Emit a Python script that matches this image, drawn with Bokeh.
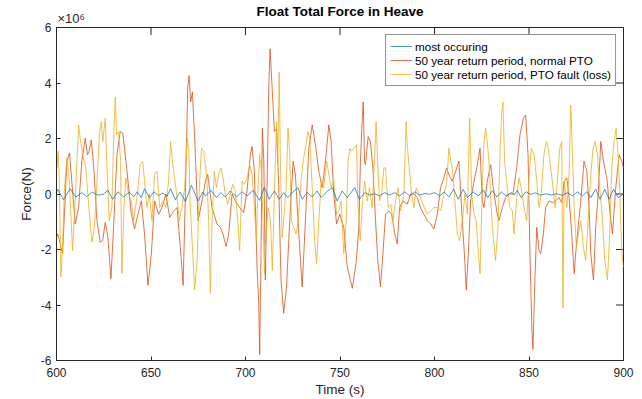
import math
from bokeh.plotting import figure
from bokeh.models import Range1d, Legend, LegendItem, LinearAxis, FixedTicker
from bokeh.embed import file_html
from bokeh.resources import INLINE

# ---------------- data (force in units of 1e6 N) ----------------
t_most = [600, 600.7, 603.7, 607.2, 610.2, 613.4, 616.1, 618.7, 621.9, 624.9, 627.2, 629.7, 632.5, 635.5,
          638.5, 640.8, 642.7, 644.9, 646.6, 649.1, 651.6, 654.0, 656.3, 658.5, 660.4, 662.9, 665.4, 668.2,
          671.4, 674.9, 677.4, 678.8, 681.8, 684.6, 687.0, 689.3, 692.0, 695.2, 698.2, 700.8, 704.0, 707.5,
          710.0, 712.5, 715.3, 717.8, 720.2, 722.4, 725.2, 727.7, 730.0, 732.6, 735.3, 737.9, 740.0, 742.9,
          745.9, 748.5, 751.2, 753.8, 757.8, 760.3, 763.1, 765.6, 768.4, 770.9, 773.7, 776.2, 779.0, 781.5,
          784.3, 786.8, 789.6, 792.1, 794.9, 797.4, 800.2, 802.7, 805.2, 807.6, 810.1, 812.6, 815.1, 817.5,
          820.4, 823.2, 825.8, 828.2, 830.6, 833.0, 835.4, 837.8, 840.6, 842.2, 843.8, 845.9, 848.4, 850.9,
          853.5, 856.2, 859.0, 861.8, 864.7, 867.5, 870.3, 873.0, 875.6, 878.3, 880.6, 882.7, 885.3, 887.6,
          890.1, 892.4, 894.7, 897.2, 900]
f_most = [0.05, 0.17, -0.21, 0.19, -0.11, 0.05, -0.10, 0.07, -0.04, -0.01, 0.14, -0.19, 0.08, -0.10,
          0.07, -0.10, 0.08, -0.13, 0.19, -0.13, 0.08, -0.06, 0.04, -0.08, 0.19, -0.21, 0.07, -0.27,
          0.31, -0.25, 0.07, -0.07, 0.13, -0.13, 0.05, -0.11, 0.11, -0.11, 0.08, -0.07, 0.13, -0.23,
          0.25, -0.19, 0.11, -0.19, 0.05, -0.13, 0.08, 0.23, -0.19, 0.05, -0.10, 0.11, -0.13, 0.08,
          0.23, -0.25, 0.11, -0.13, 0.23, -0.19, 0.05, -0.04, 0.01, -0.07, 0.05, -0.04, 0.05, -0.07,
          0.08, -0.07, 0.08, -0.04, 0.02, -0.01, 0.05, -0.07, 0.08, -0.11, 0.17, -0.19, 0.17, -0.13,
          0.08, -0.07, 0.15, -0.13, 0.12, -0.11, 0.08, -0.07, 0.05, -0.04, 0.13, -0.13, 0.08, -0.01,
          0.04, -0.04, 0.01, -0.04, 0.01, -0.05, 0.05, -0.07, 0.08, -0.07, 0.08, -0.13, 0.17, -0.19,
          0.17, -0.19, 0.17, -0.13, -0.01]

t_normal = [600, 600.7, 602, 603.2, 605.5, 606.9, 608.1, 609.9, 611.7, 613.4, 615.2, 616.4, 617.3, 618.4,
            619.6, 621.4, 623.1, 624.4, 625.8, 627.2, 628.8, 630.2, 632, 633.7, 635.1, 637.3, 639.6, 641.3,
            643.1, 644.9, 646.6, 648.4, 650.2, 651.9, 654.0, 655.8, 657.9, 659.9, 662, 663.8, 665.5, 667,
            668.2, 669.4, 670.1, 671, 671.9, 673.1, 674.9, 677, 678.8, 680, 682.3, 684.9, 686.7, 688.1,
            689.7, 691.1, 692.9, 694.6, 696.9, 699, 700.8, 702.6, 703.5, 704.7, 706.1, 707, 707.5, 708.2,
            708.9, 709.7, 710.5, 711.4, 712.3, 713, 714.1, 715.3, 716.4, 717.6, 718.8, 720.2, 721.7, 723.4,
            725.2, 726.4, 728.2, 730, 731.7, 733.5, 735.3, 737, 738.8, 740.6, 742.3, 744.1, 745.3, 746.7,
            748.2, 749.9, 752, 753.8, 756.5, 758.5, 760, 760.8, 761.7, 762.3, 763, 763.5, 764.9, 766.1,
            767.4, 768.8, 770, 771.4, 772.7, 774.1, 775.9, 777.3, 779, 780.3, 781.5, 783.3, 785.6, 787.3,
            789.1, 790.9, 792.6, 794.4, 796.2, 797.9, 799.7, 801.5, 803.2, 805, 806.4, 807.6, 809.4, 811.2,
            812.9, 814.4, 815.8, 816.8, 817.9, 819.1, 820.9, 822.7, 824.1, 825.3, 826.2, 827.9, 829.7, 831.1,
            832.9, 834.1, 835.9, 837.6, 839.4, 841.5, 843.5, 845.2, 847, 848.2, 849.5, 850.5, 851.6, 852.1,
            853, 854.1, 855.3, 856.2, 857.6, 858.8, 860.6, 862.4, 864.1, 865.9, 867.3, 868.6, 870, 871.2,
            872.6, 873.9, 874.7, 876, 877.4, 879.1, 880.6, 881.8, 882.7, 884.1, 885.3, 886.6, 888, 889.4,
            891.2, 892.9, 894.2, 895.9, 897.7, 899.1, 900]
f_normal = [-1.56, -1.44, -1.8, -2.15, 1.18, 1.48, 0.46, -1.08, -0.49, 1.18, 2.01, 1.42, 1.54, 1.95,
            1.06, -0.96, -1.74, -1.68, -1.02, -1.56, -3.05, -1.2, 1.42, 2.25, 2.19, 0.82, -0.73, -1.26,
            -0.73, -0.25, -1.44, -3.29, -2.15, -0.25, -0.73, -0.49, -0.01, -0.85, -0.61, -0.49, -1.92, -3.29,
            0.0, 3.8, 4.27, 3.32, 3.68, 2.01, -0.96, -0.25, 0.46, 0.7, -0.49, -1.08, -1.2, -1.44,
            -1.89, -1.44, 0.0, -0.25, -0.49, -0.67, 0.11, 1.42, 1.71, 0.82, -2.63, -3.94, -5.79, -2.15,
            2.37, 1.18, -3.1, 0.23, 3.8, 5.23, 3.8, 2.25, 2.37, 0.23, -3.1, -4.3, -3.35, -0.96,
            1.18, 0.7, -1.44, -3.35, -0.96, 1.65, 2.49, 1.77, 0.82, 0.23, 1.18, 2.49, 1.89, 0.0,
            -1.08, -0.73, -1.2, -2.6, -3.4, -2.5, -1.2, 1.18, 2.6, 3.32, 1.18, 1.06, 2.07, 1.89,
            0.94, -0.96, -2.39, -3.35, -2.15, -0.73, -0.61, -0.73, -1.44, -1.8, -0.49, -0.25, -0.37, 0.0,
            0.0, -0.13, -0.49, -0.73, -0.96, -1.08, -1.26, -0.73, 0.23, 0.58, 0.94, 0.7, 0.46, 0.82,
            1.18, -0.61, -2.15, -3.46, -2.15, -0.25, 0.46, 1.06, 1.65, -0.25, -0.49, 0.46, 1.06, 0.23,
            -0.61, -0.96, -0.49, -0.13, 0.0, 0.0, 0.94, 2.13, 2.73, 2.85, 1.42, -2.15, -5.01, -5.6,
            -3.35, -1.2, -2.04, -2.15, -1.44, -0.49, -0.25, -0.31, -0.25, -0.13, -0.31, 0.46, 0.58, -0.13,
            -1.44, -2.87, -2.15, -1.2, -0.25, 1.18, 0.82, -0.49, -2.15, -3.1, -1.2, 0.0, 1.89, 1.18,
            0.58, -0.73, -1.44, 0.23, 1.42, 1.18, 0.94]

t_fault = [600, 600.2, 600.9, 601.6, 602.3, 603.2, 604.2, 605.5, 606.7, 608.5, 610.2, 611.7, 612.5, 613.8,
           615.5, 617, 618.7, 620.1, 621.6, 622.8, 623.7, 624.5, 625.8, 626.7, 627.9, 629.3, 630.4, 631.1,
           631.8, 632.9, 633.9, 634.6, 635.7, 636.7, 638.1, 639.6, 640.8, 642.6, 644.3, 645.6, 646.6, 647.9,
           649.1, 650.5, 651.9, 653.2, 654.6, 656.2, 657.9, 659.3, 660.4, 661.5, 662.5, 663.8, 665, 666.4,
           667.8, 669.1, 670, 670.8, 672.1, 673.1, 674.4, 675.6, 676.7, 677.9, 678.8, 679.6, 680.5, 681.4,
           682.3, 683.5, 684.6, 685.8, 687, 688.1, 689.3, 690.6, 692, 693.2, 694.6, 695.9, 696.9, 698.2,
           699.4, 700.8, 702.2, 703.5, 704.7, 705.8, 706.5, 707.5, 708.4, 709.3, 710, 710.9, 712, 713.2,
           714.2, 715.3, 716.4, 717.1, 717.8, 718.5, 719.4, 720.2, 721.5, 722.5, 723.4, 724.3, 725.5, 726.8,
           727.8, 729.1, 730.5, 731.7, 733, 734, 735.3, 736.5, 737.6, 738.8, 740, 741.4, 742.9, 744.1,
           745.3, 746.7, 748.2, 749.4, 750.6, 752, 753.3, 754.3, 755.2, 756.1, 757.3, 758.7, 759.6, 760.7,
           761.7, 763, 764.4, 765.6, 767, 768.4, 769.1, 769.9, 770.9, 772, 773.2, 774.1, 775.5, 776.9,
           778, 779.4, 780.8, 782, 783.8, 785, 785.7, 786.8, 787.9, 789.1, 790.3, 791.8, 793.2, 794.6,
           796.2, 797.9, 799.7, 801.5, 803.2, 805, 806.4, 807.6, 808.7, 809.8, 810.8, 812.1, 813.3, 814.7,
           816.1, 817.4, 818.6, 819.7, 820.9, 822.1, 823.2, 824.1, 825, 826, 827, 827.9, 828.8, 830,
           831.1, 832.3, 833.6, 834.6, 835.5, 836.2, 837.1, 838.5, 839.9, 841.2, 842.1, 843.5, 844.7, 845.9,
           847.4, 848.8, 850, 851.2, 852.7, 854.1, 855.3, 856.5, 857.9, 859.2, 860.2, 861.5, 862.7, 863.8,
           865, 866.3, 867.3, 868.0, 868.6, 870, 871.2, 872.1, 873, 873.9, 875.1, 876.1, 877.4, 878.8, 880,
           881.3, 882.7, 883.9, 885, 886.2, 887.4, 888.9, 890.1, 891.5, 892.7, 893.8, 895, 896.1, 897.2,
           898.2, 899.1, 900]
f_fault = [1.6, 0.94, 1.54, 0.23, -2.99, -1.92, 0.23, 1.3, 0.58, -2.04, 0.23, 2.49, 2.01, 1.42,
           0.94, -0.37, -1.74, -1.2, 0.7, 2.25, 2.6, 1.89, 2.73, 0.94, -0.96, -0.49, 2.37, 3.5,
           2.13, 2.25, 1.18, -2.87, -0.49, 0.58, 0.0, -0.25, -0.96, -0.13, 1.06, 1.18, 0.46, -0.49,
           0.0, -0.96, 0.7, 0.82, -0.49, -0.25, -0.49, 0.46, 1.89, 1.06, 0.58, -0.13, -0.96, -0.49,
           0.23, 2.01, 1.54, -0.49, -2.15, -3.46, -2.39, 0.23, 1.65, 1.54, 1.06, 0.58, -0.96, -3.58,
           -0.96, 0.82, 0.23, 0.7, 0.94, 0.58, 0.0, -0.37, 0.0, 0.35, 0.11, -0.96, -2.04, 0.46,
           0.35, 0.58, 1.06, 0.7, -0.49, -1.68, 0.0, 1.42, 0.82, -0.96, -2.87, -1.32, -0.49, -0.96,
           -2.75, 0.0, 2.6, 1.18, 4.39, 1.06, -1.56, -0.96, 0.23, 2.37, 1.42, -0.96, -1.2, -1.44,
           -0.96, 0.23, 1.18, 1.65, 2.25, 2.01, 0.23, -1.56, -2.51, -0.96, 0.46, 0.23, 1.18, 0.7,
           0.23, 0.46, -0.73, -0.61, -0.25, -2.15, -0.96, 1.18, 1.65, 1.54, 1.65, 1.77, -0.49, -1.68,
           -0.49, 0.46, -0.25, 0.23, -0.49, 1.42, 2.6, 1.18, -0.25, 0.0, 0.94, 0.94, -0.49, -0.37,
           -0.96, -0.25, 0.23, -0.61, 0.0, 2.6, 1.65, 0.82, 0.0, -0.49, 0.23, 0.0, -0.25, -0.49,
           -0.73, -0.61, -0.49, -0.49, -0.61, 0.0, 0.35, 1.65, 1.18, 0.7, -0.25, -1.44, -1.68, -0.96,
           0.0, -0.73, 2.73, 0.0, -0.73, -0.96, -2.15, -2.87, -0.49, 1.65, 2.37, 1.89, 1.18, -0.49,
           -1.56, -2.39, -1.2, 1.42, 2.85, 3.32, 1.18, 0.23, -0.49, -0.61, -1.44, -0.13, 0.58, 0.23,
           -0.49, -0.96, 0.58, 1.65, 1.42, 0.46, -0.49, 0.0, 1.42, 1.89, 1.65, 0.94, 0.23, -0.49,
           0.46, 1.65, 1.89, -4.1, 0.46, -0.49, 0.7, 3.2, 1.42, -0.49, -1.92, -1.44, -0.96, -1.92, -2.39,
           -0.96, 0.7, 1.65, 1.89, 1.42, 0.23, -0.96, -2.39, -3.1, -1.44, 0.94, 1.89, 2.37, 1.42,
           -0.25, -2.15, -2.63]

x_ticks = [600, 650, 700, 750, 800, 850, 900]
y_ticks = [-6, -4, -2, 0, 2, 4, 6]
y_tick_labels = ["-6", "-4", "-2", "0", "2", "4", "6"]
series_names = ["most occuring", "50 year return period, normal PTO", "50 year return period, PTO fault (loss)"]
series_colors = ["#0072BD", "#D95319", "#EDB120"]
title_text = "Float Total Force in Heave"
exponent_text = "×10⁶"

# ---------------- figure ----------------
AX = "#262626"
FONT = "Liberation Sans"
x_lo, x_hi = x_ticks[0], x_ticks[-1]
y_lo, y_hi = y_ticks[0], y_ticks[-1]

p = figure(width=642, height=399, output_backend="svg", toolbar_location=None,
           x_range=Range1d(x_lo, x_hi), y_range=Range1d(y_lo, y_hi),
           min_border_left=56, min_border_right=19, min_border_top=25, min_border_bottom=38)
p.background_fill_color = "white"
p.border_fill_color = "white"
p.outline_line_color = AX
p.outline_line_width = 1
p.xgrid.visible = False
p.ygrid.visible = False

def style_axis(ax):
    ax.axis_line_color = AX
    ax.major_tick_line_color = AX
    ax.major_tick_in = 4
    ax.major_tick_out = 0
    ax.minor_tick_line_color = None
    ax.major_label_text_font = FONT
    ax.major_label_text_font_size = "12px"
    ax.major_label_text_color = AX
    ax.axis_label_text_font = FONT
    ax.axis_label_text_font_size = "13.5px"
    ax.axis_label_text_font_style = "normal"
    ax.axis_label_text_color = AX

xa = p.xaxis[0]
xa.ticker = FixedTicker(ticks=x_ticks)
style_axis(xa)
xa.axis_label = "Time (s)"
xa.major_label_standoff = 7
xa.axis_label_standoff = 2

ya = p.yaxis[0]
ya.ticker = FixedTicker(ticks=y_ticks)
ya.major_label_overrides = {t: l for t, l in zip(y_ticks, y_tick_labels)}
style_axis(ya)
ya.axis_label = "Force(N)"
ya.major_label_standoff = 5
ya.axis_label_standoff = 4

# top panel: the exponent marker (as a tick label near the left edge) and the bold title
exp_pos = x_lo + 7.8
top = LinearAxis(ticker=FixedTicker(ticks=[exp_pos]))
style_axis(top)
top.major_label_overrides = {exp_pos: exponent_text}
top.major_label_text_font_size = "13px"
top.axis_line_color = None
top.major_tick_line_color = None
top.major_tick_in = 0
top.major_tick_out = 0
top.major_label_standoff = 2
top.axis_label = title_text
top.axis_label_text_font_style = "bold"
top.axis_label_text_color = "black"
top.axis_label_standoff = -11
p.add_layout(top, "above")

# inward ticks on the top and right edges of the box (MATLAB "box on")
p.ray(x=x_ticks, y=[y_hi] * len(x_ticks), length=4, angle=-math.pi / 2,
      line_color=AX, line_width=1)
p.ray(x=[x_hi] * len(y_ticks), y=y_ticks, length=4, angle=math.pi,
      line_color=AX, line_width=1)

r_norm = p.line(t_normal, f_normal, line_color=series_colors[1], line_width=0.9, line_alpha=0.9)
r_fault = p.line(t_fault, f_fault, line_color=series_colors[2], line_width=0.9, line_alpha=0.9)
r_most = p.line(t_most, f_most, line_color=series_colors[0], line_width=0.9, line_alpha=0.8)

legend = Legend(items=[LegendItem(label=series_names[0], renderers=[r_most]),
                       LegendItem(label=series_names[1], renderers=[r_norm]),
                       LegendItem(label=series_names[2], renderers=[r_fault])],
                location="top_right")
legend.margin = 7
legend.padding = 4
legend.spacing = 0
legend.glyph_width = 22
legend.glyph_height = 14
legend.label_height = 14
legend.label_standoff = 3
legend.label_text_font = FONT
legend.label_text_font_size = "11.7px"
legend.label_text_color = "black"
legend.border_line_color = AX
legend.border_line_width = 1
legend.background_fill_color = "white"
legend.background_fill_alpha = 1
p.add_layout(legend)

open("out.html", "w").write(file_html(p, INLINE))
